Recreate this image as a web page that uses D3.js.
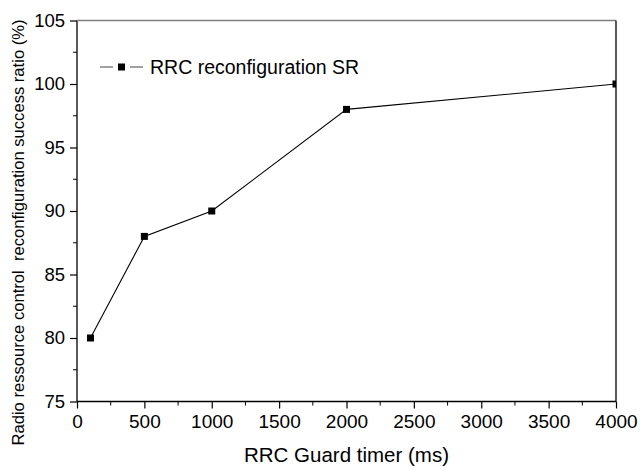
<!DOCTYPE html>
<html><head><meta charset="utf-8">
<script src="https://cdn.jsdelivr.net/npm/d3@7"></script>
<style>body{margin:0;background:#fff}svg{display:block;font-family:"Liberation Sans",Arial,sans-serif}</style>
</head><body><svg id="c" width="640" height="468"></svg>
<script>
const timers = [100, 500, 1000, 2000, 4000];
const successRatio = [80, 88, 90, 98, 100];
const xTicks = [0, 500, 1000, 1500, 2000, 2500, 3000, 3500, 4000];
const yTicks = [75, 80, 85, 90, 95, 100, 105];
const seriesName = "RRC reconfiguration SR";
const xTitle = "RRC Guard timer (ms)";
const yTitle = "Radio ressource control  reconfiguration success ratio (%)";

const FONT = '"Liberation Sans",Arial,sans-serif';
const svg = d3.select("#c");
const L = 77, R = 616, T = 20.5, B = 401.5;
const x = d3.scaleLinear().domain([0, 4000]).range([L, R]);
const y = d3.scaleLinear().domain([75, 105]).range([B, T]);

// minor ticks
const xMinor = d3.range(250, 4000, 500);
const yMinor = d3.range(77.5, 105, 5);
svg.append("g").selectAll("line").data(xMinor).join("line")
  .attr("x1", d => x(d)).attr("x2", d => x(d)).attr("y1", B).attr("y2", B + 4)
  .attr("stroke", "#000").attr("stroke-width", 1);
svg.append("g").selectAll("line").data(yMinor).join("line")
  .attr("y1", d => y(d)).attr("y2", d => y(d)).attr("x1", L).attr("x2", L - 4)
  .attr("stroke", "#000").attr("stroke-width", 1);

// axes
const xAxis = svg.append("g").attr("transform", `translate(0,${B})`)
  .call(d3.axisBottom(x).tickValues(xTicks).tickSize(7).tickPadding(6).tickFormat(d3.format("d")));
const yAxis = svg.append("g").attr("transform", `translate(${L},0)`)
  .call(d3.axisLeft(y).tickValues(yTicks).tickSize(7).tickPadding(5).tickFormat(d3.format("d")));
[xAxis, yAxis].forEach(g => {
  g.attr("font-family", FONT);
  g.select(".domain").attr("stroke", "#000").attr("stroke-width", 1.3);
  g.selectAll(".tick line").attr("stroke", "#000").attr("stroke-width", 1.2);
  g.selectAll("text").attr("fill", "#000").attr("font-family", FONT);
});
xAxis.selectAll("text").attr("font-size", 19);
yAxis.selectAll("text").attr("font-size", 18.5);
xAxis.select(".domain").attr("d", `M${L},0H${R}`);
yAxis.select(".domain").attr("d", `M0,${B}V${T}`);

// top & right borders
svg.append("line").attr("x1", L).attr("x2", R).attr("y1", T).attr("y2", T)
  .attr("stroke", "#808080").attr("stroke-width", 1.5);
svg.append("line").attr("x1", R).attr("x2", R).attr("y1", T).attr("y2", B)
  .attr("stroke", "#000").attr("stroke-width", 1.3);

// clip
svg.append("clipPath").attr("id", "clip").append("rect")
  .attr("x", L).attr("y", T).attr("width", R - L).attr("height", B - T);

const data = timers.map((t, i) => ({t, v: successRatio[i]}));
const plot = svg.append("g").attr("clip-path", "url(#clip)");
plot.append("path").datum(data)
  .attr("d", d3.line().x(d => x(d.t)).y(d => y(d.v)))
  .attr("fill", "none").attr("stroke", "#000").attr("stroke-width", 1.1);
const ms = 7;
plot.selectAll("rect.m").data(data).join("rect").attr("class", "m")
  .attr("x", d => x(d.t) - ms / 2).attr("y", d => y(d.v) - ms / 2)
  .attr("width", ms).attr("height", ms).attr("fill", "#000");

// legend
const lg = svg.append("g");
lg.append("line").attr("x1", 100).attr("x2", 113).attr("y1", 67).attr("y2", 67)
  .attr("stroke", "#444").attr("stroke-width", 1);
lg.append("line").attr("x1", 130).attr("x2", 143).attr("y1", 67).attr("y2", 67)
  .attr("stroke", "#444").attr("stroke-width", 1);
lg.append("rect").attr("x", 121.5 - 3.5).attr("y", 67 - 3.5).attr("width", 7).attr("height", 7)
  .attr("fill", "#000");
lg.append("text").attr("x", 150).attr("y", 74).attr("font-size", 19.5).attr("font-family", FONT)
  .attr("fill", "#000").text(seriesName);

// titles
svg.append("text").attr("x", (L + R) / 2).attr("y", 462).attr("text-anchor", "middle")
  .attr("font-size", 20.5).attr("font-family", FONT).attr("fill", "#000").text(xTitle);
svg.append("text").attr("transform", `translate(24,232.5) rotate(-90)`).attr("text-anchor", "middle")
  .attr("font-size", 16.6).attr("font-family", FONT).attr("fill", "#000")
  .style("white-space", "pre").text(yTitle);
</script></body></html>
